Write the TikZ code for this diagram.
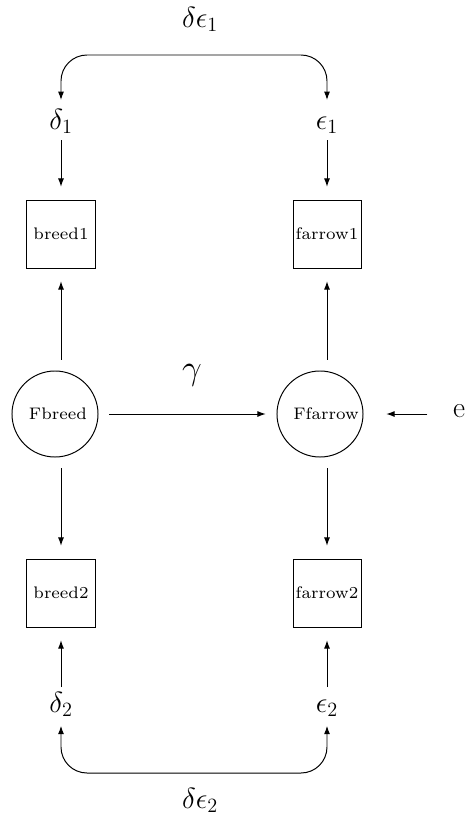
\documentclass[tikz,border=0pt]{standalone}
\usetikzlibrary{arrows.meta}
\newcommand\smalltext[1]{\scalebox{1.7}{\scriptsize #1}}
\begin{document}
\begin{tikzpicture}[x=0.025cm,y=-0.025cm,>={Latex[length=0.21cm,width=0.15cm]},line width=0.7pt]

\tikzset{obs/.style={draw,rectangle,minimum size=1.7cm,inner sep=0pt,outer sep=0.33cm},
    latent/.style={draw,circle,minimum size=2.15cm,inner sep=0pt,outer sep=0.28cm},
    lbl/.style={inner sep=0pt,outer sep=0.2cm,text height=0.7em,text depth=0.21em,font=\fontsize{21}{25}\selectfont}}

\useasboundingbox (0,0) rectangle (466,822);

%% Indicators
\node[obs] (b1) at (61,234) {\smalltext{breed1}};
\node[obs] (f1) at (327,234) {\smalltext{farrow1}};
\node[obs] (b2) at (61,593) {\smalltext{breed2}};
\node[obs] (f2) at (327,593) {\smalltext{farrow2}};

%% Factors
\node[latent] (fb) at (55,414) {\hspace*{0.145cm}\smalltext{Fbreed}};
\node[latent] (ff) at (320,414) {\hspace*{0.3cm}\smalltext{Ffarrow}};

%% Errors
\node[lbl] (d1) at (61,126) {$\delta_1$};
\node[lbl] (e1) at (327,126) {$\epsilon_1$};
\node[lbl] (d2) at (61,709) {$\delta_2$};
\node[lbl] (e2) at (327,709) {$\epsilon_2$};
\node[lbl] (err) at (459,414) {e};

%% Covariances
\node[lbl] (de1) at (200,24) {$\delta\epsilon_1$};
\node[lbl] (de2) at (200,805) {$\delta\epsilon_2$};
\coordinate (ctop) at (200,55);
\coordinate (cbot) at (200,773);
\draw[<->,rounded corners=0.65cm] ([yshift=0.29cm]d1.north) |- (ctop) -| ([yshift=0.29cm]e1.north);
\draw[<->,rounded corners=0.65cm] ([yshift=-0.06cm]d2.south) |- (cbot) -| ([yshift=-0.06cm]e2.south);

% Paths
\draw[->] (d1) -- (b1);
\draw[->] (e1) -- (f1);
\draw[->,shorten <=0.19cm] (d2) -- (b2);
\draw[->,shorten <=0.19cm] (e2) -- (f2);

\draw[->] (fb.north -| b1) -- (b1);
\draw[->] (fb.south -| b2) -- (b2);
\draw[->] (ff.north -| f1) -- (f1);
\draw[->] (ff.south -| f2) -- (f2);

\draw[->] (fb) -- (ff);
\node[font=\fontsize{24}{28}\selectfont] (gam) at (192,375) {$\gamma$};
\draw[->,shorten <=0.44cm,shorten >=0.3cm] (err) -- (ff);

\end{tikzpicture}
\end{document}
